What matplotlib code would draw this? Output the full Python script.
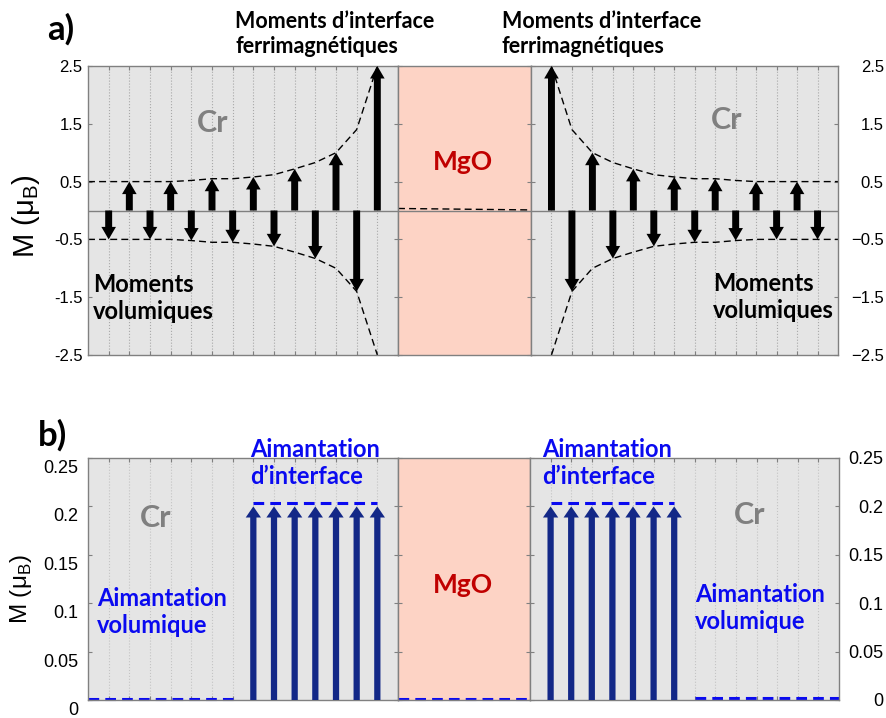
"""
Moments magnetiques Cr/MgO/Cr : a) moments par couche, b) aimantation
"""

import numpy as np
import matplotlib.pyplot as plt
from matplotlib.transforms import ScaledTranslation

# ---- donnees panneau a) ----
layers = np.arange(1, 15)
moments_left = [-0.5, 0.5, -0.5, 0.5, -0.52, 0.55, -0.55, 0.58, -0.62, 0.72, -0.83, 1.0, -1.4, 2.5]
moments_right = [2.5, -1.4, 1.0, -0.83, 0.72, -0.62, 0.58, -0.55, 0.55, -0.52, 0.5, -0.5, 0.5, -0.5]
env_left_x = np.arange(0, 15)
env_left = [0.5, 0.5, 0.5, 0.5, 0.5, 0.52, 0.55, 0.55, 0.58, 0.62, 0.72, 0.83, 1.0, 1.4, 2.5]
env_right_x = np.arange(1, 16)
env_right = [2.5, 1.4, 1.0, 0.83, 0.72, 0.62, 0.58, 0.55, 0.55, 0.52, 0.5, 0.5, 0.5, 0.5, 0.5]
mgo_env_x = [0, 1]
mgo_env = [0.035, 0.01]
yticks_a = [-2.5, -1.5, -0.5, 0.5, 1.5, 2.5]

# ---- donnees panneau b) ----
vol_left_x = [0, 7]
vol_right_x = [8, 15]
vol_left_level = [0.001, 0.001]
vol_right_level = [0.002, 0.002]
mgo_level = [0.001, 0.001]
inter_left_x = np.arange(8, 15)
inter_right_x = np.arange(1, 8)
inter_val = [0.2, 0.2, 0.2, 0.2, 0.2, 0.2, 0.2]
inter_top = 0.204
yticks_b = [0, 0.05, 0.1, 0.15, 0.2, 0.25]
yticklabels_b = ["0", "0.05", "0.1", "0.15", "0.2", "0.25"]

W, H = 887, 718
CR_BG = "#e5e5e5"
MGO_BG = "#fdd3c5"
FRAME = "#808080"
BLUE = "#0a0af0"
NAVY = "#132887"
ANNOT_FONT = "Lato"

plt.rcParams["font.family"] = ["Liberation Sans", "DejaVu Sans"]


def px_axes(fig, x0, x1, y0, y1):
    return fig.add_axes([x0 / W, 1 - y1 / H, (x1 - x0) / W, (y1 - y0) / H])


def px_text(fig, x, y, s, **kw):
    return fig.text(x / W, 1 - y / H, s, **kw)


def base_style(ax, bg, ylim, yticks, cr=True, grid_color="#a8a8a8"):
    ax.set_facecolor(bg)
    ax.set_ylim(*ylim)
    ax.set_yticks(yticks)
    if cr:
        ax.set_xlim(0, 15)
        ax.set_xticks(layers)
        ax.grid(axis="x", ls=":", color=grid_color, lw=0.8)
    else:
        ax.set_xlim(0, 1)
        ax.set_xticks([])
    for sp in ax.spines.values():
        sp.set_color(FRAME)
        sp.set_linewidth(1.0)
    ax.tick_params(direction="in", length=3, color=FRAME, top=True, right=True,
                   labelbottom=False, labelleft=False, labelright=False)


def arrow(ax, x, y, color, tail, head_w, head_l):
    ax.annotate("", xy=(x, y), xytext=(x, 0),
                arrowprops=dict(arrowstyle=f"simple,head_width={head_w},head_length={head_l},tail_width={tail}",
                                color=color, lw=0, shrinkA=0, shrinkB=0, mutation_scale=1))


def plot_moments():
    fig = plt.figure(figsize=(W / 100, H / 100), dpi=100)

    # ---------------- a) ----------------
    axL = px_axes(fig, 88, 398, 66, 355)
    axM = px_axes(fig, 398, 531, 66, 355)
    axR = px_axes(fig, 531, 838, 66, 355)
    for ax, bg, cr in [(axL, CR_BG, True), (axM, MGO_BG, False), (axR, CR_BG, True)]:
        base_style(ax, bg, (-2.5, 2.5), yticks_a, cr)
        ax.axhline(0, color=FRAME, lw=1, zorder=1.8)

    axL.tick_params(axis="y", labelleft=True, labelsize=12, pad=4)
    axR.tick_params(axis="y", labelright=True, labelsize=12, pad=33)
    for t in axR.yaxis.get_major_ticks():
        t.label2.set_horizontalalignment("right")
    axL.set_yticklabels([f"{v:g}" for v in yticks_a])

    axL.plot(env_left_x, env_left, "k--", lw=1, dashes=(5, 3))
    axL.plot(env_left_x, -np.array(env_left), "k--", lw=1, dashes=(5, 3))
    axR.plot(env_right_x, env_right, "k--", lw=1, dashes=(5, 3), clip_on=False)
    axR.plot(env_right_x, -np.array(env_right), "k--", lw=1, dashes=(5, 3), clip_on=False)
    axM.plot(mgo_env_x, mgo_env, "k--", lw=1, dashes=(5, 3))

    for x, m in zip(layers, moments_left):
        arrow(axL, x, m, "black", 5, 10.5, 9)
    for x, m in zip(layers, moments_right):
        arrow(axR, x, m, "black", 5, 10.5, 9)

    px_text(fig, 26, 216, "M (μ$_\\mathregular{B}$)", rotation=90, fontsize=21,
            ha="center", va="center")
    px_text(fig, 47, 29, "a)", fontsize=25, fontweight="bold", family=ANNOT_FONT,
            va="center")

    bold = dict(family=ANNOT_FONT, fontweight="bold")
    px_text(fig, 235, 34, "Moments d’interface\nferrimagnétiques", fontsize=15.5,
            va="center", linespacing=1.28, **bold)
    px_text(fig, 502, 34, "Moments d’interface\nferrimagnétiques", fontsize=15.5,
            va="center", linespacing=1.28, **bold)
    px_text(fig, 93, 298, "Moments\nvolumiques", fontsize=17, va="center",
            linespacing=1.2, **bold)
    px_text(fig, 713, 297, "Moments\nvolumiques", fontsize=17, va="center",
            linespacing=1.2, **bold)
    px_text(fig, 213, 123, "Cr", fontsize=22, color="#808080", ha="center", va="center", **bold)
    px_text(fig, 727, 120, "Cr", fontsize=22, color="#808080", ha="center", va="center", **bold)
    px_text(fig, 463, 162, "MgO", fontsize=19, color="#c00000", ha="center", va="center", **bold)

    # ---------------- b) ----------------
    bxL = px_axes(fig, 88, 398, 458, 700)
    bxM = px_axes(fig, 398, 530, 458, 700)
    bxR = px_axes(fig, 530, 839, 458, 700)
    for ax, bg, cr in [(bxL, CR_BG, True), (bxM, MGO_BG, False), (bxR, CR_BG, True)]:
        base_style(ax, bg, (0, 0.25), yticks_b, cr, grid_color="#c4c4c4")

    bxL.tick_params(axis="y", labelleft=True, labelsize=13, pad=7)
    bxL.set_yticklabels(yticklabels_b)
    shift = ScaledTranslation(0, -0.085, fig.dpi_scale_trans)
    for t in bxL.yaxis.get_major_ticks():
        t.label1.set_transform(t.label1.get_transform() + shift)
    bxR.tick_params(axis="y", labelright=True, labelsize=13, pad=32)
    bxR.set_yticklabels(yticklabels_b)
    for t in bxR.yaxis.get_major_ticks():
        t.label2.set_horizontalalignment("right")

    dash_b = dict(color=BLUE, lw=2.2, ls="--", dashes=(3.5, 2))
    bxL.plot(vol_left_x, vol_left_level, clip_on=False, **dash_b)
    bxR.plot(vol_right_x, vol_right_level, clip_on=False, **dash_b)
    bxM.plot([0, 1], mgo_level, clip_on=False, **dash_b)
    bxL.plot([inter_left_x[0], inter_left_x[-1]], [inter_top, inter_top], **dash_b)
    bxR.plot([inter_right_x[0], inter_right_x[-1]], [inter_top, inter_top], **dash_b)

    for x, m in zip(inter_left_x, inter_val):
        arrow(bxL, x, m, NAVY, 4.5, 11, 8)
    for x, m in zip(inter_right_x, inter_val):
        arrow(bxR, x, m, NAVY, 4.5, 11, 8)

    px_text(fig, 21, 589, "M (μ$_\\mathregular{B}$)", rotation=90, fontsize=17.5,
            ha="center", va="center")
    px_text(fig, 38, 435, "b)", fontsize=25, fontweight="bold", family=ANNOT_FONT,
            va="center")

    blue = dict(family=ANNOT_FONT, fontweight="bold", color=BLUE, fontsize=17,
                va="center", linespacing=1.25)
    px_text(fig, 250, 463, "Aimantation\nd’interface", **blue)
    px_text(fig, 542, 463, "Aimantation\nd’interface", **blue)
    px_text(fig, 97, 612, "Aimantation\nvolumique", **blue)
    px_text(fig, 695, 608, "Aimantation\nvolumique", **blue)
    px_text(fig, 156, 518, "Cr", fontsize=22, color="#808080", ha="center", va="center", **bold)
    px_text(fig, 750, 515, "Cr", fontsize=22, color="#808080", ha="center", va="center", **bold)
    px_text(fig, 463, 585, "MgO", fontsize=19, color="#c00000", ha="center", va="center", **bold)

    return fig


if __name__ == "__main__":
    fig = plot_moments()
    fig.savefig("out.png", dpi=100)
